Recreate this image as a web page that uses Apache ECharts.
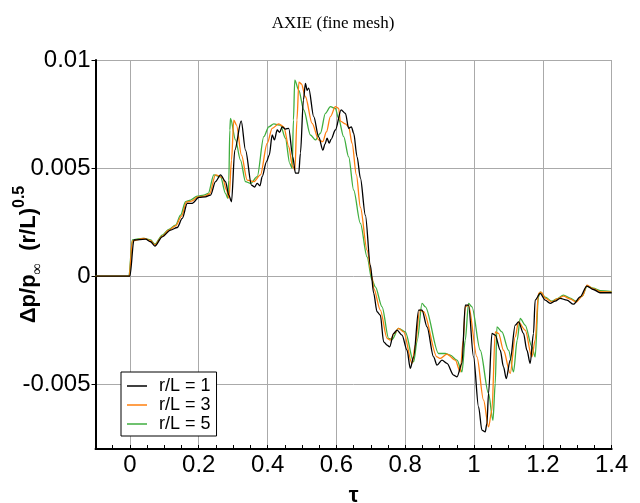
<!DOCTYPE html>
<html>
<head>
<meta charset="utf-8">
<script src="https://cdn.jsdelivr.net/npm/echarts@6/dist/echarts.min.js"></script>
<style>html,body{margin:0;padding:0;background:#fff}#c{width:640px;height:503px}</style>
</head>
<body>
<div id="c"></div>
<script>
const seriesNames = ['r/L = 1', 'r/L = 3', 'r/L = 5'];
const xTickLabels = ['0', '0.2', '0.4', '0.6', '0.8', '1', '1.2', '1.4'];
const yTickLabels = ['-0.005', '0', '0.005', '0.01'];

const tau1 = [-0.1, 0.0, 0.0116, 0.0456, 0.0601, 0.0726, 0.0940, 0.1181, 0.1376, 0.1521, 0.1666, 0.1811, 0.2003, 0.2197, 0.2343, 0.2488, 0.2633, 0.2778, 0.2874, 0.2952, 0.3048, 0.3234, 0.3359, 0.3533, 0.3620, 0.3698, 0.3780, 0.3843, 0.3968, 0.4050, 0.4134, 0.4200, 0.4279, 0.4350, 0.4424, 0.4520, 0.4615, 0.4732, 0.4810, 0.4906, 0.4955, 0.5042, 0.5100, 0.5150, 0.5196, 0.5341, 0.5486, 0.5608, 0.5670, 0.5730, 0.5790, 0.5846, 0.5971, 0.6137, 0.6262, 0.6357, 0.6435, 0.6502, 0.6601, 0.6697, 0.6842, 0.6987, 0.7083, 0.7181, 0.7277, 0.7373, 0.7472, 0.7547, 0.7663, 0.7762, 0.7907, 0.8052, 0.8148, 0.8244, 0.8389, 0.8488, 0.8633, 0.8824, 0.8923, 0.9068, 0.9213, 0.9405, 0.9504, 0.9649, 0.9745, 0.9840, 0.9985, 1.0131, 1.0229, 1.0325, 1.0374, 1.0421, 1.0520, 1.0616, 1.0761, 1.0856, 1.0935, 1.1051, 1.1196, 1.1292, 1.1437, 1.1536, 1.1631, 1.1727, 1.1776, 1.1922, 1.2067, 1.2212, 1.2357, 1.2502, 1.2697, 1.2888, 1.3083, 1.3277, 1.3469, 1.3663, 1.4];
const val1 = [0, 0, 0.00167, 0.00171, 0.00159, 0.00139, 0.00182, 0.00213, 0.00225, 0.00267, 0.00337, 0.00337, 0.00364, 0.00367, 0.00375, 0.00437, 0.00468, 0.00437, 0.00375, 0.00344, 0.00583, 0.00718, 0.00583, 0.00421, 0.00412, 0.00429, 0.00418, 0.00460, 0.00529, 0.00560, 0.00653, 0.00630, 0.00676, 0.00665, 0.00691, 0.00680, 0.00684, 0.00552, 0.00477, 0.00477, 0.00569, 0.00815, 0.00892, 0.00860, 0.00870, 0.00738, 0.00644, 0.00583, 0.00612, 0.00638, 0.00615, 0.00633, 0.00676, 0.00769, 0.00753, 0.00684, 0.00691, 0.00661, 0.00552, 0.00454, 0.00282, 0.00051, -0.00079, -0.00165, -0.00181, -0.00304, -0.00319, -0.00327, -0.00265, -0.00250, -0.00273, -0.00343, -0.00427, -0.00374, -0.00157, -0.00157, -0.00235, -0.00374, -0.00412, -0.00389, -0.00404, -0.00458, -0.00466, -0.00404, -0.00134, -0.00134, -0.00374, -0.00605, -0.00713, -0.00721, -0.00682, -0.00543, -0.00265, -0.00273, -0.00343, -0.00420, -0.00474, -0.00389, -0.00227, -0.00212, -0.00265, -0.00343, -0.00404, -0.00265, -0.00111, -0.00080, -0.00111, -0.00126, -0.00116, -0.00103, -0.00111, -0.00130, -0.00096, -0.00046, -0.00062, -0.00077, -0.00077];

const tau3 = [-0.1, -0.002, 0.0070, 0.0406, 0.0601, 0.0726, 0.0940, 0.1132, 0.1327, 0.1501, 0.1646, 0.1791, 0.1980, 0.2168, 0.2314, 0.2488, 0.2691, 0.2807, 0.2880, 0.2952, 0.3019, 0.3097, 0.3242, 0.3408, 0.3599, 0.3794, 0.3988, 0.4134, 0.4325, 0.4470, 0.4615, 0.4723, 0.4795, 0.4853, 0.4911, 0.4984, 0.5100, 0.5295, 0.5486, 0.5602, 0.5710, 0.5826, 0.5971, 0.6067, 0.6116, 0.6262, 0.6357, 0.6456, 0.6581, 0.6697, 0.6891, 0.7036, 0.7083, 0.7277, 0.7472, 0.7568, 0.7684, 0.7808, 0.7954, 0.8197, 0.8293, 0.8418, 0.8534, 0.8923, 0.9019, 0.9213, 0.9454, 0.9599, 0.9686, 0.9745, 0.9840, 1.0084, 1.0276, 1.0421, 1.0520, 1.0616, 1.0711, 1.0856, 1.1051, 1.1196, 1.1292, 1.1486, 1.1681, 1.1776, 1.1872, 1.1950, 1.2067, 1.2261, 1.2415, 1.2598, 1.2793, 1.2967, 1.3141, 1.3286, 1.3461, 1.3663, 1.4];
const val3 = [0, 0, 0.00162, 0.00175, 0.00164, 0.00144, 0.00185, 0.00213, 0.00232, 0.00278, 0.00343, 0.00347, 0.00366, 0.00370, 0.00380, 0.00468, 0.00456, 0.00398, 0.00361, 0.00537, 0.00722, 0.00699, 0.00560, 0.00444, 0.00437, 0.00468, 0.00614, 0.00684, 0.00704, 0.00691, 0.00599, 0.00509, 0.00491, 0.00722, 0.00898, 0.00889, 0.00830, 0.00707, 0.00630, 0.00622, 0.00667, 0.00738, 0.00784, 0.00776, 0.00717, 0.00704, 0.00691, 0.00614, 0.00468, 0.00319, 0.00120, -0.00003, -0.00057, -0.00157, -0.00288, -0.00296, -0.00264, -0.00242, -0.00258, -0.00404, -0.00319, -0.00157, -0.00165, -0.00374, -0.00381, -0.00361, -0.00389, -0.00443, -0.00296, -0.00142, -0.00134, -0.00374, -0.00574, -0.00698, -0.00620, -0.00258, -0.00265, -0.00343, -0.00450, -0.00281, -0.00212, -0.00250, -0.00374, -0.00296, -0.00080, -0.00074, -0.00102, -0.00120, -0.00106, -0.00093, -0.00106, -0.00120, -0.00093, -0.00042, -0.00058, -0.00072, -0.00074];

const tau5 = [-0.1, -0.003, 0.0070, 0.0194, 0.0406, 0.0601, 0.0726, 0.0940, 0.1132, 0.1327, 0.1472, 0.1617, 0.1762, 0.1956, 0.2148, 0.2276, 0.2438, 0.2633, 0.2778, 0.2845, 0.2874, 0.2903, 0.2923, 0.3068, 0.3213, 0.3359, 0.3504, 0.3698, 0.3890, 0.4035, 0.4180, 0.4374, 0.4519, 0.4644, 0.4714, 0.4752, 0.4790, 0.4906, 0.5051, 0.5245, 0.5390, 0.5536, 0.5681, 0.5826, 0.5971, 0.6058, 0.6212, 0.6357, 0.6502, 0.6697, 0.6891, 0.7036, 0.7132, 0.7327, 0.7518, 0.7617, 0.7808, 0.8003, 0.8244, 0.8351, 0.8488, 0.8584, 0.8970, 0.9164, 0.9309, 0.9504, 0.9649, 0.9745, 0.9840, 0.9939, 1.0180, 1.0421, 1.0549, 1.0616, 1.0665, 1.0810, 1.1002, 1.1147, 1.1254, 1.1341, 1.1486, 1.1681, 1.1776, 1.1872, 1.1922, 1.2067, 1.2261, 1.2407, 1.2598, 1.2793, 1.2967, 1.3141, 1.3286, 1.3461, 1.3663, 1.4];
const val5 = [0, 0, 0.00167, 0.00171, 0.00175, 0.00167, 0.00148, 0.00190, 0.00216, 0.00236, 0.00282, 0.00344, 0.00352, 0.00370, 0.00375, 0.00383, 0.00468, 0.00460, 0.00383, 0.00360, 0.00444, 0.00676, 0.00730, 0.00630, 0.00537, 0.00437, 0.00429, 0.00460, 0.00645, 0.00691, 0.00704, 0.00699, 0.00638, 0.00522, 0.00499, 0.00722, 0.00907, 0.00861, 0.00769, 0.00653, 0.00630, 0.00661, 0.00753, 0.00784, 0.00776, 0.00732, 0.00645, 0.00552, 0.00398, 0.00244, 0.00089, -0.00019, -0.00050, -0.00142, -0.00288, -0.00293, -0.00242, -0.00258, -0.00397, -0.00296, -0.00126, -0.00142, -0.00358, -0.00358, -0.00366, -0.00389, -0.00443, -0.00296, -0.00126, -0.00142, -0.00343, -0.00543, -0.00667, -0.00497, -0.00235, -0.00258, -0.00343, -0.00443, -0.00296, -0.00196, -0.00227, -0.00327, -0.00374, -0.00096, -0.00073, -0.00097, -0.00116, -0.00106, -0.00088, -0.00102, -0.00116, -0.00093, -0.00046, -0.00056, -0.00067, -0.00072];

const colors = ['#000000', '#ff7f0e', '#3fae3f'];
const taus = [tau1, tau3, tau5];
const vals = [val1, val3, val5];

function pairs(t, v) { return t.map((x, i) => [x, v[i]]); }

const chart = echarts.init(document.getElementById('c'), null, {renderer: 'canvas'});
const sans = 'Liberation Sans, Arial, Helvetica, sans-serif';
const option = {
  animation: false,
  backgroundColor: '#ffffff',
  title: {
    text: 'AXIE (fine mesh)',
    left: 328, textAlign: 'center', top: 10,
    textStyle: {fontFamily: 'Liberation Serif, Times New Roman, serif', fontSize: 17, fontWeight: 'normal', color: '#000'}
  },
  grid: {left: 95.5, right: 28.3, top: 60, bottom: 54, containLabel: false, outerBoundsMode: 'none', show: false},
  legend: {
    orient: 'vertical', left: 121, top: 372,
    data: seriesNames.map(n => ({name: n, icon: 'rect'})),
    itemWidth: 20, itemHeight: 1.5, itemGap: 1,
    padding: [5, 6, 3, 6],
    borderColor: '#000', borderWidth: 1, backgroundColor: '#fff',
    textStyle: {fontFamily: sans, fontSize: 18, color: '#000', lineHeight: 18, padding: [0, 0, 0, 7]}
  },
  xAxis: [{
    type: 'value', min: -0.1, max: 1.4, splitNumber: 7,
    name: 'τ', nameLocation: 'middle', nameGap: 36, nameMoveOverlap: false,
    nameTextStyle: {fontFamily: sans, fontSize: 22, color: '#000', fontWeight: 'bold'},
    axisLine: {show: true, onZero: false, lineStyle: {color: '#000', width: 2}},
    axisTick: {show: false},
    splitLine: {show: true, lineStyle: {color: '#aaaaaa', width: 1}},
    axisLabel: {
      showMinLabel: false, fontFamily: sans, fontSize: 24, color: '#000', margin: 4,
      formatter: function (v) { const i = Math.round(v / 0.2); return (Math.abs(v - i * 0.2) < 1e-6 && i >= 0) ? xTickLabels[i] : ''; }
    }
  }, {
    type: 'value', min: -0.1, max: 1.4, interval: 0.05, position: 'bottom',
    axisLine: {show: false, onZero: false},
    axisTick: {show: true, inside: true, length: 4, lineStyle: {color: '#000', width: 1}},
    axisLabel: {show: false},
    splitLine: {show: false}
  }],
  yAxis: [{
    type: 'value', min: -0.008, max: 0.01, splitNumber: 4,
    name: '{m|Δp/p}{s|∞}{m|  (r/L)}{p|0.5}',
    nameLocation: 'middle', nameGap: 50, nameMoveOverlap: false,
    nameTextStyle: {
      color: '#000',
      rich: {
        m: {fontFamily: sans, fontSize: 22, fontWeight: 'bold', color: '#000', lineHeight: 34, verticalAlign: 'middle'},
        s: {fontFamily: 'Liberation Serif, serif', fontSize: 16, color: '#000', lineHeight: 14, verticalAlign: 'bottom'},
        p: {fontFamily: sans, fontSize: 16, fontWeight: 'bold', color: '#000', lineHeight: 14, verticalAlign: 'top'}
      }
    },
    axisLine: {show: true, onZero: false, lineStyle: {color: '#000', width: 2}},
    axisTick: {show: true, inside: false, length: 4, lineStyle: {color: '#000'}},
    splitLine: {show: true, lineStyle: {color: '#aaaaaa', width: 1}},
    axisLabel: {
      showMinLabel: false, fontFamily: sans, fontSize: 24, color: '#000', margin: 5,
      formatter: function (v) { const i = Math.round(v / 0.005) + 1; return (Math.abs(v - (i - 1) * 0.005) < 1e-9 && i >= 0 && i < yTickLabels.length) ? yTickLabels[i] : ''; }
    }
  }],
  series: seriesNames.map((n, k) => ({
    name: n, type: 'line', xAxisIndex: 0, yAxisIndex: 0,
    data: pairs(taus[k], vals[k]),
    symbol: 'none', smooth: 0.3, smoothMonotone: 'x',
    lineStyle: {color: colors[k], width: 1.3},
    itemStyle: {color: colors[k]},
    z: 10 - k
  }))
};
chart.setOption(option);
</script>
</body>
</html>
